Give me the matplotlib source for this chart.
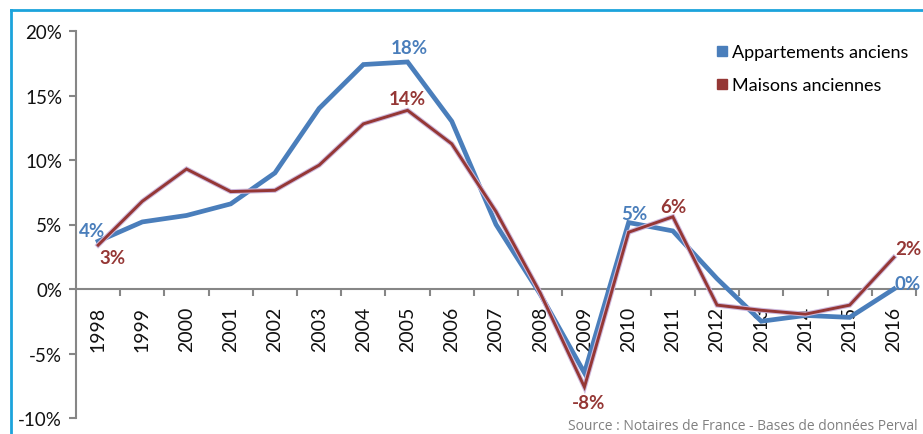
import matplotlib
matplotlib.use("Agg")
import matplotlib.pyplot as plt
import matplotlib.patheffects as pe
from matplotlib.lines import Line2D
from matplotlib.ticker import FuncFormatter, FixedLocator

years = [str(y) for y in range(1998, 2017)]
appartements = [3.7, 5.2, 5.7, 6.6, 9.0, 14.0, 17.4, 17.6, 13.0, 5.0, -0.4,
                -6.5, 5.15, 4.5, 0.8, -2.5, -2.05, -2.2, 0.0]
maisons = [3.4, 6.8, 9.3, 7.55, 7.65, 9.6, 12.8, 13.85, 11.25, 6.0, -0.3,
           -7.6, 4.4, 5.6, -1.25, -1.65, -1.95, -1.25, 2.45]
yticks = [-10, -5, 0, 5, 10, 15, 20]
series_names = ["Appartements anciens", "Maisons anciennes"]
source_text = "Source : Notaires de France - Bases de données Perval"

# labels: (series index, year index, text)
labels = [
    (0, 0, "4%"), (1, 0, "3%"), (0, 7, "18%"), (1, 7, "14%"),
    (0, 12, "5%"), (1, 13, "6%"), (1, 11, "-8%"), (1, 18, "2%"), (0, 18, "0%"),
]
label_offsets = [(-6, 11), (14, -12), (2, 14), (0, 12), (6, 9), (1, 10),
                 (4, -15), (14, 9), (14, 6)]

BLUE = "#4a7ebb"
RED = "#953735"
GRAY = "#868686"
FRAME = "#1ca3dc"
FONT = ["Lato", "DejaVu Sans"]

W, H = 923, 435
fig = plt.figure(figsize=(W / 100, H / 100), dpi=100)
ax = fig.add_axes([76 / W, 1 - 419 / H, (916 - 76) / W, (419 - 32) / H])

x = list(range(len(years)))
ax.plot(x, appartements, color=BLUE, lw=3.4, solid_joinstyle="miter", zorder=3)
ax.plot(x, maisons, color=RED, lw=2.1, solid_joinstyle="miter", zorder=4,
        path_effects=[pe.Stroke(linewidth=3.6, foreground="#cdb8dc"), pe.Normal()])

ax.set_xlim(-0.5, len(years) - 0.5)
ax.set_ylim(-10, 20)

for s in ["top", "right"]:
    ax.spines[s].set_visible(False)
ax.spines["left"].set_color(GRAY)
ax.spines["left"].set_linewidth(1.5)
ax.spines["bottom"].set_position(("data", 0))
ax.spines["bottom"].set_color(GRAY)
ax.spines["bottom"].set_linewidth(1.5)

ax.set_yticks(yticks)
ax.yaxis.set_major_formatter(FuncFormatter(lambda v, p: f"{int(v)}%"))
ax.tick_params(axis="y", direction="out", length=5, width=1.5, color=GRAY,
               labelsize=13.5, pad=5)

ax.set_xticks(x)
ax.set_xticklabels(years, rotation=90, fontsize=14)
ax.xaxis.set_minor_locator(FixedLocator([i + 0.5 for i in x]))
ax.tick_params(axis="x", which="major", length=0, pad=12)
ax.tick_params(axis="x", which="minor", direction="out", length=5, width=1.5, color=GRAY)
for t in ax.get_xticklabels() + ax.get_yticklabels():
    t.set_family(FONT)
    t.set_color("#111111")

series = [appartements, maisons]
colors = [BLUE, RED]
for (si, yi, txt), (dx, dy) in zip(labels, label_offsets):
    ax.annotate(txt, (yi, series[si][yi]), xytext=(dx, dy), textcoords="offset pixels",
                ha="center", va="center", fontsize=13.5, fontweight="bold",
                color=colors[si], family=FONT, zorder=6)

handles = [Line2D([], [], marker="s", ls="none", color=c, markersize=7) for c in colors]
leg = fig.legend(handles, series_names, loc="upper left",
                 bbox_to_anchor=(706 / W, 1 - 38 / H), frameon=False,
                 prop={"family": FONT, "size": 13}, handletextpad=0.05,
                 handlelength=1.0, labelspacing=0.95, borderaxespad=0)

fig.text(918 / W, 1 - 427 / H, source_text, ha="right", va="center",
         fontsize=10, color="#808080", family=["Open Sans", "DejaVu Sans"])

fig.add_artist(Line2D([11 / W, 1], [1 - 11 / H, 1 - 11 / H], color=FRAME, lw=2))
fig.add_artist(Line2D([11 / W, 11 / W], [1 - 11 / H, 0], color=FRAME, lw=2))

fig.savefig("out.png", dpi=100)
